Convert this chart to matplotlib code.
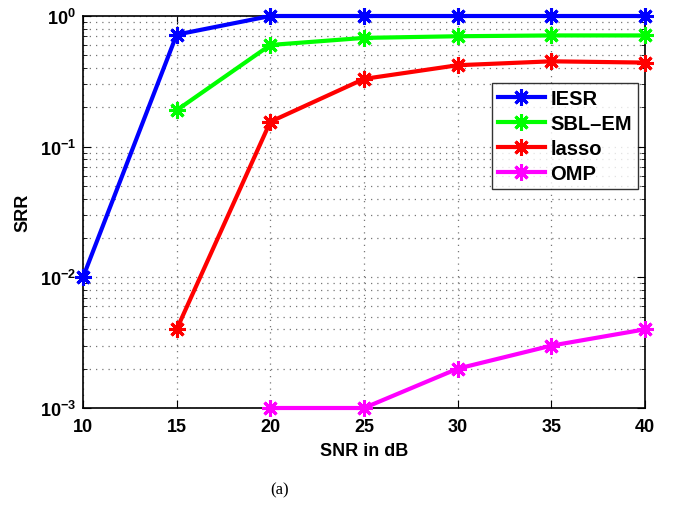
import matplotlib
matplotlib.use("Agg")
import matplotlib.pyplot as plt
from matplotlib.ticker import LogLocator, NullFormatter

# SNR values (dB) and success recovery rates
snr = [10, 15, 20, 25, 30, 35, 40]
iesr = [0.01, 0.72, 1.0, 1.0, 1.0, 1.0, 1.0]
sbl_snr = [15, 20, 25, 30, 35, 40]
sbl_em = [0.19, 0.60, 0.68, 0.70, 0.71, 0.71]
lasso_snr = [15, 20, 25, 30, 35, 40]
lasso = [0.004, 0.155, 0.33, 0.42, 0.45, 0.44]
omp_snr = [20, 25, 30, 35, 40]
omp = [0.001, 0.001, 0.002, 0.003, 0.004]

plt.rcParams["font.family"] = ["Liberation Sans", "DejaVu Sans"]
plt.rcParams["font.weight"] = "bold"
plt.rcParams["mathtext.default"] = "bf"

fig = plt.figure(figsize=(6.78, 5.06), dpi=100)
ax = fig.add_axes([0.1224, 0.1917, 0.8289, 0.7747])

star = (8, 2, 0)
style = dict(lw=3, marker=star, ms=12, mew=2.2, clip_on=False, zorder=3)
ax.plot(snr, iesr, color="#0000ff", label="IESR", **style)
ax.plot(sbl_snr, sbl_em, color="#00ff00", label="SBL\u2013EM", **style)
ax.plot(lasso_snr, lasso, color="#ff0000", label="lasso", **style)
ax.plot(omp_snr, omp, color="#ff00ff", label="OMP", **style)

ax.set_yscale("log")
ax.set_xlim(10, 40)
ax.set_ylim(1e-3, 1)
ax.set_xticks(snr)
ax.yaxis.set_major_locator(LogLocator(base=10, numticks=10))
ax.yaxis.set_minor_locator(LogLocator(base=10, subs=range(2, 10), numticks=20))
ax.yaxis.set_minor_formatter(NullFormatter())

dots = dict(ls=(0, (1, 4)), color="#777777", lw=0.9)
ax.grid(True, which="major", axis="both", **dots)
ax.grid(True, which="minor", axis="y", **dots)
ax.tick_params(which="both", direction="in", top=True, right=True,
               labelsize=13)
ax.tick_params(which="major", length=6)
ax.tick_params(which="minor", length=3)
ax.tick_params(axis="x", pad=7)
ax.tick_params(axis="y", pad=5)
for s in ax.spines.values():
    s.set_linewidth(1.2)

ax.set_xlabel("SNR in dB", fontsize=13, fontweight="bold", labelpad=5)
ax.set_ylabel("SRR", fontsize=13, fontweight="bold", labelpad=6)

leg = ax.legend(loc="upper right", bbox_to_anchor=(0.988, 0.83),
                fontsize=14.5, fancybox=False, edgecolor="black",
                handlelength=2.3, borderpad=0.3, labelspacing=0.3,
                handletextpad=0.3, borderaxespad=0)
leg.get_frame().set_linewidth(1.0)

fig.text(0.413, 0.022, "(a)", family="Liberation Serif", fontweight="normal",
         fontsize=12, ha="center")

fig.savefig("out.png", dpi=100)
